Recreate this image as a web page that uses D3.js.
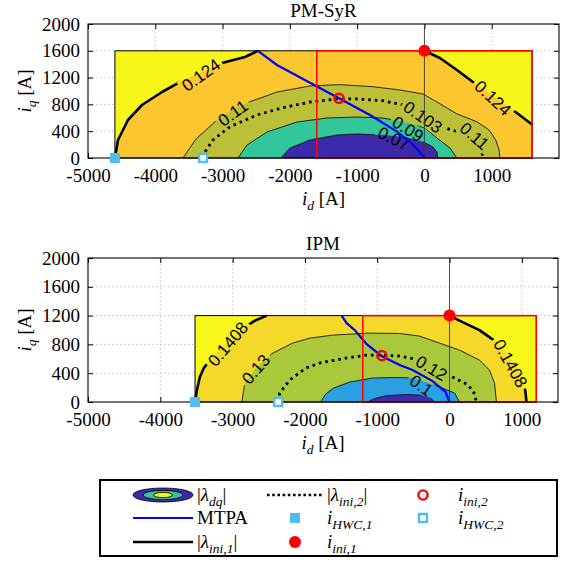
<!DOCTYPE html>
<html><head><meta charset="utf-8">
<script src="https://cdn.jsdelivr.net/npm/d3@7"></script>
<style>body{margin:0;background:#fff}svg{display:block}</style>
</head><body>
<svg id="c" width="564" height="561"></svg>
<script>
// ---------------- DATA ----------------
const xTickValues = [-5000,-4000,-3000,-2000,-1000,0,1000];
const yTickValues = [0,400,800,1200,1600,2000];
const yDomain = [0,2000];

// PM-SyR
const pmXDomain = [-5000,2000];
const pmMapId = [-4600,1600];
const pmMapIq = 1600;
const pmLimitBox = [-1600,1600,1600]; // idMin, idMax, iqMax
const pmIni1Left = [[-4600,0],[-4554,269],[-4406,567],[-4198,791],[-3900,985],[-3663,1119],[-3336,1269],[-3009,1418],[-2667,1507],[-2474,1600]];
const pmIni1Right = [[0,1600],[230,1493],[483,1313],[721,1134],[1018,925],[1315,716],[1600,500]];
const pmC011 = [[-3588,0],[-3395,284],[-3083,567],[-2815,746],[-2592,840],[-2191,985],[-1701,1075],[-1255,1095],[-765,1064],[-363,1015],[-20,955],[230,810],[480,660],[780,540],[960,420],[1060,270],[1110,120],[1123,0]];
const pmC009 = [[-2771,0],[-2637,194],[-2340,388],[-1894,537],[-1448,597],[-1003,612],[-617,597],[-290,537],[7,448],[186,299],[379,149],[483,0]];
const pmC007 = [[-2132,0],[-1998,149],[-1701,269],[-1300,343],[-1003,358],[-617,343],[-290,313],[-22,243],[126,164],[186,90],[201,0]];
const pmIni2Line = [[-3290,0],[-3261,94],[-3142,269],[-2890,467],[-2489,642],[-2102,751],[-1701,836],[-1300,881],[-1003,881],[-617,855],[-320,791],[0,620],[230,467],[480,400],[676,330],[825,219],[874,0]];
const pmMTPA = [[-2474,1600],[-2192,1388],[-1998,1284],[-1597,1067],[-1270,891],[-810,642],[-409,393],[-216,243],[-97,119],[0,0]];
const pmIni1Point = [0,1600];
const pmIni2Point = [-1270,891];
const pmHWC1 = [-4600,0];
const pmHWC2 = [-3290,0];
const pmLabelText = ["0.124","0.124","0.11","0.103","0.11","0.09","0.07"];
const pmLabelAt = [[-3321,1239],[1018,896],[-2846,672],[-22,612],[743,328],[-245,433],[-453,294]];
const pmLabelAngle = [-36,43,-36,35,41,32,25];

// IPM
const ipmXDomain = [-5000,1500];
const ipmMapId = [-3520,1200];
const ipmMapIq = 1200;
const ipmLimitBox = [-1200,1200,1200];
const ipmIni1Left = [[-3520,0],[-3494,166],[-3453,347],[-3398,471],[-3315,582],[-3177,721],[-3011,887],[-2831,1040],[-2680,1136],[-2528,1200]];
const ipmIni1Right = [[0,1200],[180,1109],[414,998],[649,832],[760,721],[856,582],[953,444],[1022,277],[1050,139],[1064,0]];
const ipmC013 = [[-2873,0],[-2831,263],[-2666,485],[-2445,679],[-2169,818],[-1934,887],[-1616,929],[-1146,956],[-691,952],[-414,915],[-138,818],[138,721],[414,582],[552,444],[622,263],[649,0]];
const ipmC010 = [[-1782,0],[-1713,111],[-1602,194],[-1381,277],[-1064,333],[-760,340],[-483,333],[-138,208],[69,125],[138,0]];
const ipmC008 = [[-1133,0],[-1050,42],[-898,83],[-622,104],[-414,97],[-276,62],[-207,0]];
const ipmIni2Line = [[-2370,0],[-2348,125],[-2210,305],[-1989,471],[-1796,541],[-1436,610],[-1146,651],[-939,651],[-691,638],[-511,603],[-276,527],[41,347],[235,249],[331,152],[373,0]];
const ipmMTPA = [[-1492,1200],[-1423,1095],[-1312,998],[-1146,804],[-939,638],[-691,513],[-511,444],[-235,291],[-55,139],[0,0]];
const ipmIni1Point = [0,1200];
const ipmIni2Point = [-935,645];
const ipmHWC1 = [-3520,0];
const ipmHWC2 = [-2370,0];
const ipmLabelText = ["0.1408","0.13","0.12","0.1","0.1408"];
const ipmLabelAt = [[-3066,804],[-2680,457],[-249,471],[-391,229],[843,536]];
const ipmLabelAngle = [-50,-49,31,35,61];

// ---------------- STYLE / LAYOUT ----------------
const serif = "'Liberation Serif','Times New Roman',serif";
const sans = "'Liberation Sans',Arial,sans-serif";
const RED = "#ff0000", LBLUE = "#4dbeee";
const svg = d3.select("#c");
const defs = svg.append("defs");

const panels = [
  {title:"PM-SyR", xDomain:pmXDomain, xRange:[88,559], yRange:[158,24], titleY:17, xlabY:205,
   mapId:pmMapId, mapIq:pmMapIq, box:pmLimitBox, ini1L:pmIni1Left, ini1R:pmIni1Right,
   levels:[pmC011,pmC009,pmC007], ini2:pmIni2Line, mtpa:pmMTPA,
   pIni1:pmIni1Point, pIni2:pmIni2Point, hwc1:pmHWC1, hwc2:pmHWC2,
   lt:pmLabelText, la:pmLabelAt, lang:pmLabelAngle,
   cOut:"#f7f61b", cIni:"#fbc62f", cLev:["#bcbf38","#33c69b","#3d2aab"]},
  {title:"IPM", xDomain:ipmXDomain, xRange:[88,558], yRange:[402,258], titleY:250, xlabY:449,
   mapId:ipmMapId, mapIq:ipmMapIq, box:ipmLimitBox, ini1L:ipmIni1Left, ini1R:ipmIni1Right,
   levels:[ipmC013,ipmC010,ipmC008], ini2:ipmIni2Line, mtpa:ipmMTPA,
   pIni1:ipmIni1Point, pIni2:ipmIni2Point, hwc1:ipmHWC1, hwc2:ipmHWC2,
   lt:ipmLabelText, la:ipmLabelAt, lang:ipmLabelAngle,
   cOut:"#f7f71a", cIni:"#f5d92a", cLev:["#aac83b","#2aa0e2","#3e2bae"]}
];

function mathText(sel, parts, subSize, subShift){
  let shift = 0;
  parts.forEach(p=>{
    const ts = sel.append("tspan").text(p.t);
    if(p.it) ts.attr("font-style","italic");
    const target = p.sub ? subShift : 0;
    if(target!==shift){ ts.attr("dy", target-shift); shift=target; }
    if(p.sub) ts.attr("font-size", subSize);
  });
}

panels.forEach((P,pi)=>{
  const g = svg.append("g");
  const x = d3.scaleLinear().domain(P.xDomain).range(P.xRange);
  const y = d3.scaleLinear().domain(yDomain).range(P.yRange);
  const [x0,x1] = P.xRange, [yb,yt] = P.yRange;
  const xt = xTickValues.filter(v=>v>=P.xDomain[0]&&v<=P.xDomain[1]);
  const line = d3.line().x(d=>x(d[0])).y(d=>y(d[1]));

  // grid
  g.append("g").selectAll("line").data(xt.slice(1)).join("line")
    .attr("x1",d=>x(d)).attr("x2",d=>x(d)).attr("y1",yb).attr("y2",yt)
    .attr("stroke","#c4c4c4").attr("stroke-width",1).attr("stroke-dasharray","1.5,2.5");
  g.append("g").selectAll("line").data(yTickValues.slice(1,-1)).join("line")
    .attr("x1",x0).attr("x2",x1).attr("y1",d=>y(d)).attr("y2",d=>y(d))
    .attr("stroke","#c4c4c4").attr("stroke-width",1).attr("stroke-dasharray","1.5,2.5");

  // axes (inward ticks)
  const fmt = d=>String(d);
  const ax = g.append("g").attr("transform",`translate(0,${yb})`)
    .call(d3.axisBottom(x).tickValues(xt).tickFormat(fmt).tickSizeInner(-5).tickSizeOuter(0).tickPadding(10.5));
  const axT = g.append("g").attr("transform",`translate(0,${yt})`)
    .call(d3.axisTop(x).tickValues(xt).tickFormat("").tickSizeInner(-5).tickSizeOuter(0));
  const ay = g.append("g").attr("transform",`translate(${x0},0)`)
    .call(d3.axisLeft(y).tickValues(yTickValues).tickFormat(fmt).tickSizeInner(-5).tickSizeOuter(0).tickPadding(8));
  const ayR = g.append("g").attr("transform",`translate(${x1},0)`)
    .call(d3.axisRight(y).tickValues(yTickValues).tickFormat("").tickSizeInner(-5).tickSizeOuter(0));
  [ax,axT,ay,ayR].forEach(a=>{
    a.select(".domain").remove();
    a.selectAll("line").attr("stroke","#000").attr("stroke-width",1);
    a.selectAll("text").attr("font-family",serif).attr("font-size",19).attr("fill","#000");
  });

  // fills
  g.append("rect").attr("x",x(P.mapId[0])).attr("y",y(P.mapIq))
    .attr("width",x(P.mapId[1])-x(P.mapId[0])).attr("height",y(0)-y(P.mapIq))
    .attr("fill",P.cOut);
  const iniPoly = P.ini1L.concat(P.ini1R);
  const last = iniPoly[iniPoly.length-1];
  if(last[1]>0) iniPoly.push([P.mapId[1],0]);
  g.append("path").attr("d",line(iniPoly)+"Z").attr("fill",P.cIni);
  P.levels.forEach((lv,i)=>{
    g.append("path").attr("d",line(lv)+"Z").attr("fill",P.cLev[i]);
  });

  // labels (measure first)
  const lg = g.append("g");
  const labs = P.lt.map((t,i)=>{
    const tx = lg.append("text").text(t)
      .attr("font-family",sans).attr("font-size",17).attr("fill","#000")
      .attr("text-anchor","middle").attr("dy","0.35em")
      .attr("transform",`translate(${x(P.la[i][0])},${y(P.la[i][1])}) rotate(${P.lang[i]})`);
    return {w:tx.node().getComputedTextLength(), cx:x(P.la[i][0]), cy:y(P.la[i][1]), a:P.lang[i]};
  });
  const mask = defs.append("mask").attr("id","m"+pi).attr("maskUnits","userSpaceOnUse")
    .attr("x",0).attr("y",0).attr("width",564).attr("height",561);
  mask.append("rect").attr("x",0).attr("y",0).attr("width",564).attr("height",561).attr("fill","#fff");
  labs.forEach(L=>{
    mask.append("rect").attr("x",-L.w/2-3).attr("y",-8).attr("width",L.w+6).attr("height",16)
      .attr("fill","#000").attr("transform",`translate(${L.cx},${L.cy}) rotate(${L.a})`);
  });

  // contour lines (masked)
  const cl = g.insert("g", ()=>lg.node()).attr("mask",`url(#m${pi})`);
  P.levels.forEach(lv=>{
    cl.append("path").attr("d",line(lv)).attr("fill","none").attr("stroke","#000").attr("stroke-width",0.8);
  });
  cl.append("path").attr("d",line(P.ini2)).attr("fill","none").attr("stroke","#000")
    .attr("stroke-width",2.8).attr("stroke-dasharray","2.6,4");
  [P.ini1L,P.ini1R].forEach(seg=>{
    cl.append("path").attr("d",line(seg)).attr("fill","none").attr("stroke","#000")
      .attr("stroke-width",2.6).attr("stroke-linejoin","round");
  });

  // id = 0 line
  g.append("line").attr("x1",x(0)).attr("x2",x(0)).attr("y1",yb).attr("y2",yt)
    .attr("stroke","#3a3a3a").attr("stroke-width",0.9);

  // MTPA
  g.append("path").attr("d",line(P.mtpa)).attr("fill","none").attr("stroke","#0000ff").attr("stroke-width",2.2);

  // map border & limit box
  g.append("rect").attr("x",x(P.mapId[0])).attr("y",y(P.mapIq))
    .attr("width",x(P.mapId[1])-x(P.mapId[0])).attr("height",y(0)-y(P.mapIq))
    .attr("fill","none").attr("stroke","#000").attr("stroke-width",1);
  g.append("rect").attr("x",x(P.box[0])).attr("y",y(P.box[2]))
    .attr("width",x(P.box[1])-x(P.box[0])).attr("height",y(0)-y(P.box[2]))
    .attr("fill","none").attr("stroke",RED).attr("stroke-width",1.5);

  // frame
  g.append("rect").attr("x",x0).attr("y",yt).attr("width",x1-x0).attr("height",yb-yt)
    .attr("fill","none").attr("stroke","#000").attr("stroke-width",1.1);

  // markers
  g.append("rect").attr("x",x(P.hwc1[0])-5).attr("y",y(P.hwc1[1])-5).attr("width",10).attr("height",10).attr("fill",LBLUE);
  g.append("rect").attr("x",x(P.hwc2[0])-4).attr("y",y(P.hwc2[1])-4).attr("width",8).attr("height",8)
    .attr("fill","#fff").attr("stroke",LBLUE).attr("stroke-width",2.4);
  g.append("circle").attr("cx",x(P.pIni1[0])).attr("cy",y(P.pIni1[1])).attr("r",6).attr("fill",RED);
  g.append("circle").attr("cx",x(P.pIni2[0])).attr("cy",y(P.pIni2[1])).attr("r",4.6)
    .attr("fill","none").attr("stroke",RED).attr("stroke-width",2.4);

  // titles & axis labels
  const cx = (x0+x1)/2;
  g.append("text").attr("x",cx).attr("y",P.titleY).attr("text-anchor","middle")
    .attr("font-family",serif).attr("font-size",19).text(P.title);
  const xl = g.append("text").attr("x",cx).attr("y",P.xlabY).attr("text-anchor","middle")
    .attr("font-family",serif).attr("font-size",19);
  mathText(xl,[{t:"i",it:true},{t:"d",it:true,sub:true},{t:" [A]"}],13.5,4.5);
  const yl = g.append("text").attr("transform",`translate(31,${(yb+yt)/2}) rotate(-90)`)
    .attr("text-anchor","middle").attr("font-family",serif).attr("font-size",19);
  mathText(yl,[{t:"i",it:true},{t:"q",it:true,sub:true},{t:" [A]"}],13.5,4.5);
});

// ---------------- LEGEND ----------------
const legendLabels = [
  [{t:"|"},{t:"λ",it:true},{t:"dq",it:true,sub:true},{t:"|"}],
  [{t:"MTPA"}],
  [{t:"|"},{t:"λ",it:true},{t:"ini,1",it:true,sub:true},{t:"|"}],
  [{t:"|"},{t:"λ",it:true},{t:"ini,2",it:true,sub:true},{t:"|"}],
  [{t:"i",it:true},{t:"HWC,1",it:true,sub:true}],
  [{t:"i",it:true},{t:"ini,1",it:true,sub:true}],
  [{t:"i",it:true},{t:"ini,2",it:true,sub:true}],
  [{t:"i",it:true},{t:"HWC,2",it:true,sub:true}]
];
const legendKinds = ["ellipse","mtpa","ini1","ini2","hwc1","pini1","pini2","hwc2"];
const legCol = [0,0,0,1,1,1,2,2], legRow = [0,1,2,0,1,2,0,1];
const colSym = [[133,193],[267,322],[423,423]], colSymMarker=[163,295,423], colText=[197,327,458];
const rowY = [495,518,542];

const lgd = svg.append("g");
lgd.append("rect").attr("x",100).attr("y",480).attr("width",457).attr("height",76)
  .attr("fill","#fff").attr("stroke","#000").attr("stroke-width",2);
legendKinds.forEach((k,i)=>{
  const c = legCol[i], yy = rowY[legRow[i]];
  const cxm = colSymMarker[c];
  if(k==="ellipse"){
    lgd.append("ellipse").attr("cx",163).attr("cy",yy).attr("rx",30).attr("ry",7).attr("fill","#3d2aab").attr("stroke","#000").attr("stroke-width",0.8);
    lgd.append("ellipse").attr("cx",163).attr("cy",yy).attr("rx",20).attr("ry",4.6).attr("fill","#33c69b").attr("stroke","#000").attr("stroke-width",0.8);
    lgd.append("ellipse").attr("cx",163).attr("cy",yy).attr("rx",9.5).attr("ry",2.6).attr("fill","#f7f61b").attr("stroke","#000").attr("stroke-width",0.8);
  } else if(k==="mtpa"||k==="ini1"||k==="ini2"){
    const s = colSym[c];
    const l = lgd.append("line").attr("x1",s[0]).attr("x2",s[1]).attr("y1",yy).attr("y2",yy)
      .attr("stroke",k==="mtpa"?"#0000ff":"#000").attr("stroke-width",k==="mtpa"?2.2:2.6);
    if(k==="ini2") l.attr("stroke-dasharray","2.6,2.6");
  } else if(k==="hwc1"){
    lgd.append("rect").attr("x",cxm-5).attr("y",yy-5).attr("width",10).attr("height",10).attr("fill",LBLUE);
  } else if(k==="hwc2"){
    lgd.append("rect").attr("x",cxm-4).attr("y",yy-4).attr("width",8).attr("height",8).attr("fill","#fff").attr("stroke",LBLUE).attr("stroke-width",2.4);
  } else if(k==="pini1"){
    lgd.append("circle").attr("cx",cxm).attr("cy",yy).attr("r",6).attr("fill",RED);
  } else if(k==="pini2"){
    lgd.append("circle").attr("cx",cxm).attr("cy",yy).attr("r",4.6).attr("fill","none").attr("stroke",RED).attr("stroke-width",2.4);
  }
  const t = lgd.append("text").attr("x",colText[c]).attr("y",yy+6).attr("font-family",serif).attr("font-size",19);
  mathText(t, legendLabels[i], 13.5, 4.5);
});
</script>
</body></html>
